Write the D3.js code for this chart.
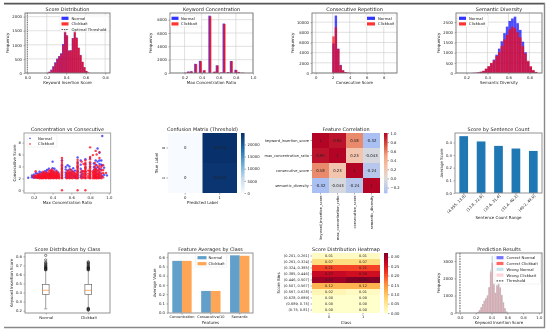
<!DOCTYPE html>
<html><head><meta charset="utf-8">
<script src="https://cdn.jsdelivr.net/npm/d3@7"></script>
<style>
html,body{margin:0;padding:0;background:#fff;overflow:hidden}
svg{display:block;filter:blur(0.4px)}
text{font-family:"DejaVu Sans",sans-serif;fill:#222}
</style></head><body>
<svg id="c" width="550" height="332"></svg>
<script>
// ---------- data ----------
const BLUE="#0000ff",RED="#ff0000";
const scoreStep=0.02;
const scoreBinsX=[.20,.22,.24,.26,.28,.30,.32,.34,.36,.38,.40,.42,.44,.46,.48,.50,.52,.54,.56,.58,.60,.62];
const scoreNormal=[8,45,120,240,380,510,600,700,1030,1520,1340,800,810,1240,1490,1260,900,640,400,210,75,18];
const scoreClick=[6,40,105,225,360,495,590,680,1000,1500,1330,790,800,1230,1470,1240,890,630,390,200,70,15];
const concStep=0.028;
const concX=[.20,.235,.27,.32,.375,.42,.486,.54,.572,.62,.652,.70,.737,.79,.825,.87];
const concNormal=[40,210,260,1380,1820,380,8600,170,1150,60,7420,130,1800,480,160,40];
const concClick=[30,190,240,1340,1770,430,8500,210,1120,80,7360,100,1780,430,130,30];
const repStep=0.28;
const repX=[1.95,2.23,2.51,2.79,3.07,3.35,3.63,3.91,4.19];
const repNormal=[5800,11300,4800,1600,520,170,60,25,10];
const repClick=[7200,9000,4700,1500,560,180,70,30,12];
const divStep=0.025;
const divX=[.25,.275,.30,.325,.35,.375,.40,.425,.45,.475,.50,.525,.55,.575,.60,.625,.65,.675,.70,.725,.75,.775,.80,.825,.85];
const divNormal=[5,10,30,60,100,200,320,480,660,900,1200,1560,1960,2280,2560,2680,2770,2450,2120,1540,1020,560,300,120,45];
const divClick=[5,12,30,60,110,220,340,490,620,830,1020,1330,1650,1880,2140,2280,2200,2000,1750,1320,960,600,340,150,55];

const scatterXTicks=[.2,.4,.6,.8,1.0], scatterYTicks=[0,2,4,6,8];
const scatterNormal=[[.14,[2.1]],[.18,[2.2,2.5]],[.2,[2.1,2.3,2.6]],[.22,[2.2,2.4,2.9]],[.24,[2.1,2.5,2.8]],[.26,[2.2,2.4,2.7,3.1]],[.28,[2.1,2.3,2.6,3.0]],[.3,[2.2,2.5,2.9]],[.32,[2.1,2.4,2.8,3.2]],[.34,[2.2,2.6,3.0,3.4]],[.36,[2.1,2.4,2.7,3.6]],[.38,[2.2,2.5,2.9,3.3]],[.4,[2.1,2.6,3.1,3.7,4.8]],[.42,[2.2,2.5,3.0,3.6]],[.44,[2.1,2.4,2.8,3.3]],[.46,[2.2,2.6,3.0]],[.5,[2.1,2.5,3.0,3.6,4.2,5.0]],[.54,[2.2,2.6,3.0,3.5,3.9]],[.56,[2.1,2.4,2.8,3.3,4.2]],[.58,[2.2,2.6,3.0,3.5,4.0]],[.6,[2.1,2.5,2.9,3.4]],[.62,[2.2,2.6,3.1,3.7]],[.64,[2.1,2.4,2.8,3.3]],[.667,[2.1,2.6,3.2,3.9,4.6,5.5]],[.7,[2.2,2.5,3.0,3.6,4.3,5.0]],[.72,[2.2,2.7,3.2]],[.75,[2.1,2.6,3.1,3.8,4.4,5.2]],[.8,[2.1,2.6,3.2,3.9,4.5,5.4]],[.84,[2.2,2.5,3.0,3.4,3.9,4.5]],[.86,[2.1,2.6,3.1,3.7,4.3,5.0]],[.88,[2.2,2.7,3.3,3.9,4.8,7.0]],[.9,[2.1,2.5,3.0,3.6,4.4,5.0,6.3]],[.92,[2.2,2.8,3.5,4.3,5.0]],[.93,[9.1,4.2,2.4]],[.95,[2.6,3.8]],[.98,[2.5]]];
const scatterClick=[[.2,[2.2,2.4]],[.22,[2.1,2.3,2.5,3.2]],[.24,[2.1,2.2,2.4,2.6]],[.26,[2.0,2.2,2.3,2.5,2.7]],[.28,[2.0,2.1,2.3,2.5,2.8]],[.3,[2.0,2.2,2.4,2.6,2.8,3.1]],[.31,[2.1,2.3,2.5,2.7,2.9]],[.33,[2.0,2.2,2.4,2.6,2.8,3.0]],[.34,[2.1,2.3,2.5,2.7]],[.36,[2.0,2.2,2.4,2.6,2.8,3.0,3.3]],[.38,[2.0,2.2,2.3,2.5,2.7,2.9,3.2]],[.39,[2.1,2.3,2.5,2.7,3.0,3.3,3.5]],[.41,[2.0,2.2,2.4,2.6,2.8,3.0,3.3]],[.42,[2.1,2.3,2.5,2.7,3.0]],[.44,[2.0,2.2,2.4,2.6,2.8,3.1]],[.45,[2.1,2.3,2.5,2.8,3.0]],[.47,[2.0,2.2,2.4,2.7]],[.5,[0,2.0,2.2,2.4,2.6,2.8,3.0,3.2,3.4,3.6,3.8,4.0,4.3,4.6,5.0,5.4]],[.55,[2.0,2.3,2.6,2.9]],[.56,[2.1,2.4,2.7,3.0,3.3]],[.58,[2.0,2.2,2.5,2.8,3.1]],[.59,[2.1,2.4,2.7,3.0,3.5]],[.61,[2.0,2.3,2.6,2.9,3.2]],[.63,[2.1,2.4,2.7,3.0]],[.65,[2.0,2.3,2.5,2.8]],[.667,[0,2.0,2.2,2.4,2.6,2.8,3.0,3.2,3.4,3.6,3.8,4.0,4.2,4.5,4.8,5.1]],[.71,[2.0,2.3,2.6,3.0,3.3,4.8]],[.73,[2.1,2.4,2.8,3.2,4.4]],[.75,[0,2.0,2.2,2.4,2.6,2.8,3.0,3.2,3.4,3.6,3.8,4.0,4.3,4.6,5.0]],[.78,[2.1,2.4,2.8,3.3]],[.8,[2.0,2.2,2.4,2.6,2.8,3.0,3.2,3.4,3.7,4.0,4.3,4.7,5.2,5.6,7.2]],[.83,[2.0,2.3,2.6,2.9,3.2,5.9]],[.85,[2.0,2.2,2.4,2.6,2.8,3.0,3.3,3.6,4.0,4.6]],[.86,[2.1,2.3,2.5,2.8,3.1,3.5,6.6]],[.87,[2.0,2.2,2.4,2.7,3.0,3.4,4.2,6.0]],[.89,[2.0,2.3,2.6,2.9,3.3,3.8]],[.9,[2.1,2.4,2.7,3.1,3.5,4.1,5.4,6.4]],[.92,[2.0,2.4,2.8,3.3,3.9]],[.94,[2.2,2.9,3.4,4.2]],[.97,[2.9]]];

const cmClasses=["0","1"];
const cmValues=[[0,24710],[0,24155]];
const cmTicks=[0,5000,10000,15000,20000];

const corrLabels=["keyword_insertion_score","max_concentration_ratio","consecutive_score","semantic_diversity"];
const corrValues=[[1,.95,.58,-.32],[.95,1,.23,-.043],[.58,.23,1,-.24],[-.32,-.043,-.24,1]];
const corrText=[["1","0.95","0.58","-0.32"],["0.95","1","0.23","-0.043"],["0.58","0.23","1","-0.24"],["-0.32","-0.043","-0.24","1"]];
const corrTicks=[-.2,0,.2,.4,.6,.8,1];
const coolwarmDomain=[-1,-.5,0,.25,.5,.75,1];
const coolwarmRange=["#3b4cc0","#8db0fe","#dddcdc","#f6c3aa","#f4a582","#d6503d","#b40426"];

const sentCats=["(4.955, 13.8]","(13.8, 22.6]","(22.6, 31.4]","(31.4, 40.2]","(40.2, 49.0]"];
const sentVals=[.45,.408,.373,.352,.333];

const boxCats=["Normal","Clickbait"];
const boxStats=[{q1:.38,med:.425,q3:.49,lo:.22,hi:.645},{q1:.38,med:.425,q3:.49,lo:.232,hi:.645}];
const boxFliers=[[.65,.655,.66,.665,.67,.675,.68,.69,.695,.705,.715,.725,.735,.76,.81],[.205,.21,.215,.22,.225,.65,.655,.66,.665,.67,.675,.68,.685,.695,.705,.715,.725,.73,.74]];

const featCats=["Concentration","Consecutive/10","Semantic"];
const featNormal=[.56,.235,.62];
const featClick=[.56,.235,.615];

const heatRows=["(0.201, 0.261]","(0.261, 0.324]","(0.324, 0.385]","(0.385, 0.446]","(0.446, 0.507]","(0.507, 0.567]","(0.567, 0.628]","(0.628, 0.689]","(0.689, 0.75]","(0.75, 0.81]"];
const heatCols=["0","1"];
const heatNormal=[.01,.07,.21,.27,.30,.12,.02,.00,.00,.00];
const heatClick=[.01,.07,.21,.26,.32,.12,.01,.00,.00,.00];
const heatTicks=[0,.05,.10,.15,.20,.25,.30];

const predStep=0.02;
const predX=[.22,.24,.26,.28,.30,.32,.34,.36,.38,.40,.42,.44,.46,.48,.50,.52,.54,.56,.58];
const predWrongNormal=[60,170,330,520,720,850,1020,1500,2500,3300,1700,1180,1620,1790,1500,1050,620,280,80];
const predWrongClick=[55,160,320,500,700,840,1000,1480,2350,2900,1650,1150,1580,1750,1460,1020,600,260,70];

// ---------- helpers ----------
const svg=d3.select("#c");
const TICK=3.8,LAB=4,TITLE=4.9;
function panel(b,xd,yd){
  const g=svg.append("g");
  const x=d3.scaleLinear().domain(xd).range([b.x0,b.x1]);
  const y=d3.scaleLinear().domain(yd).range([b.y1,b.y0]);
  return {g,x,y,b};
}
function gridlines(p,xt,yt){
  p.g.selectAll(null).data(xt).join("line").attr("x1",d=>p.x(d)).attr("x2",d=>p.x(d)).attr("y1",p.b.y0).attr("y2",p.b.y1).attr("stroke","#ccc").attr("stroke-width",.6);
  p.g.selectAll(null).data(yt).join("line").attr("y1",d=>p.y(d)).attr("y2",d=>p.y(d)).attr("x1",p.b.x0).attr("x2",p.b.x1).attr("stroke","#ccc").attr("stroke-width",.6);
}
function styleAxis(a){a.select(".domain").remove();a.selectAll("line").attr("stroke","#555").attr("stroke-width",.5);a.selectAll("text").attr("font-size",TICK).attr("fill","#222");}
function axes(p,xt,yt,xf,yf){
  if(xt){const a=p.g.append("g").attr("transform",`translate(0,${p.b.y1})`).call(d3.axisBottom(p.x).tickValues(xt).tickFormat(xf||d3.format(".1f")).tickSize(1.5).tickPadding(1.5));styleAxis(a);}
  if(yt){const a=p.g.append("g").attr("transform",`translate(${p.b.x0},0)`).call(d3.axisLeft(p.y).tickValues(yt).tickFormat(yf||d3.format("d")).tickSize(1.5).tickPadding(1.5));styleAxis(a);}
}
function spine(p,c){p.g.append("rect").attr("x",p.b.x0).attr("y",p.b.y0).attr("width",p.b.x1-p.b.x0).attr("height",p.b.y1-p.b.y0).attr("fill","none").attr("stroke",c||"#777").attr("stroke-width",.9);}
function labels(b,t,xl,yl,xlY,ylX){
  svg.append("text").attr("x",(b.x0+b.x1)/2).attr("y",b.y0-2.2).attr("text-anchor","middle").attr("font-size",TITLE).text(t);
  svg.append("text").attr("x",(b.x0+b.x1)/2).attr("y",xlY).attr("text-anchor","middle").attr("font-size",LAB).text(xl);
  svg.append("text").attr("transform",`translate(${ylX},${(b.y0+b.y1)/2}) rotate(-90)`).attr("text-anchor","middle").attr("font-size",LAB).text(yl);
}
function bars(p,xs,vals,step,color,alpha,off){
  p.g.selectAll(null).data(vals).join("rect")
   .attr("x",(d,i)=>p.x(xs[i]+(off||0))).attr("width",(d,i)=>p.x(xs[i]+step)-p.x(xs[i]))
   .attr("y",d=>p.y(d)).attr("height",d=>p.y.range()[0]-p.y(d)).attr("fill",color).attr("fill-opacity",alpha);
}
function legend(items,o){
  const g=svg.append("g");
  if(o.box) g.append("rect").attr("x",o.box[0]).attr("y",o.box[1]).attr("width",o.box[2]).attr("height",o.box[3]).attr("rx",.8).attr("fill","#fff").attr("fill-opacity",.82).attr("stroke","#ddd").attr("stroke-width",.4);
  items.forEach((it,i)=>{
    const y=o.y+i*o.dy;
    if(it.type==="line") g.append("line").attr("x1",o.x).attr("x2",o.x+o.w).attr("y1",y).attr("y2",y).attr("stroke",it.color).attr("stroke-width",.9).attr("stroke-dasharray",it.dash);
    else if(it.type==="dot") g.append("circle").attr("cx",o.x+o.w/2).attr("cy",y).attr("r",.9).attr("fill",it.color).attr("fill-opacity",.7);
    else g.append("rect").attr("x",o.x).attr("y",y-1.6).attr("width",o.w).attr("height",3.2).attr("fill",it.color).attr("fill-opacity",it.a==null?.7:it.a);
    g.append("text").attr("x",o.tx).attr("y",y+1.4).attr("font-size",TICK).text(it.t);
  });
}
function colorbar(b,dom,color,ticks,fmt){
  const y=d3.scaleLinear().domain(dom).range([b.y1,b.y0]);
  const n=60,g=svg.append("g");
  d3.range(n).forEach(i=>{const v0=dom[0]+(dom[1]-dom[0])*i/n,v1=dom[0]+(dom[1]-dom[0])*(i+1)/n;
    g.append("rect").attr("x",b.x0).attr("width",b.x1-b.x0).attr("y",y(v1)).attr("height",y(v0)-y(v1)+.3).attr("fill",color((v0+v1)/2));});
  const a=g.append("g").attr("transform",`translate(${b.x1},0)`).call(d3.axisRight(y).tickValues(ticks).tickFormat(fmt).tickSize(1.5).tickPadding(1.5));
  styleAxis(a);
}
function heat(g,x,y,rows,cols,val,color,txt,fs,dark){
  rows.forEach(r=>cols.forEach(c=>{
    const v=val(r,c);
    g.append("rect").attr("x",x(c)).attr("y",y(r)).attr("width",x.bandwidth()).attr("height",y.bandwidth()).attr("fill",color(v));
    g.append("text").attr("x",x(c)+x.bandwidth()/2).attr("y",y(r)+y.bandwidth()/2+fs*.36).attr("text-anchor","middle").attr("font-size",fs).attr("fill",dark(v)?"#fff":"#333").text(txt(r,c));
  }));
}
function catAxes(g,x,y,b,fs){
  const ax=g.append("g").attr("transform",`translate(0,${b.y1})`).call(d3.axisBottom(x).tickSize(1.5).tickPadding(1.5));styleAxis(ax);
  const ay=g.append("g").attr("transform",`translate(${b.x0},0)`).call(d3.axisLeft(y).tickSize(1.5).tickPadding(1.5));styleAxis(ay);
  if(fs){ax.selectAll("text").attr("font-size",fs);ay.selectAll("text").attr("font-size",fs);}
  return [ax,ay];
}

// ---------- frame ----------
svg.append("line").attr("x1",4).attr("x2",545).attr("y1",3.6).attr("y2",3.6).attr("stroke","#555").attr("stroke-width",1.8);
svg.append("line").attr("x1",544.5).attr("x2",544.5).attr("y1",3).attr("y2",328).attr("stroke","#888").attr("stroke-width",1.4);
svg.append("line").attr("x1",4).attr("x2",545).attr("y1",327.5).attr("y2",327.5).attr("stroke","#888").attr("stroke-width",1.3);

// ---------- row 1 ----------
{const b={x0:25,x1:110,y0:13,y1:73};
 const p=panel(b,[-.024,.85],[0,2130]);
 gridlines(p,[0,.2,.4,.6,.8],[0,500,1000,1500,2000]);
 bars(p,scoreBinsX,scoreNormal,scoreStep,BLUE,.7,-.004);
 bars(p,scoreBinsX,scoreClick,scoreStep,RED,.7);
 p.g.append("line").attr("x1",p.x(0)).attr("x2",p.x(0)).attr("y1",b.y0).attr("y2",b.y1).attr("stroke","#444").attr("stroke-width",.8).attr("stroke-dasharray","1,.8");
 axes(p,[0,.2,.4,.6,.8],[0,500,1000,1500,2000]);spine(p);
 labels(b,"Score Distribution","Keyword Insertion Score","Frequency",84,8.5);
 legend([{t:"Normal",color:BLUE,a:.8},{t:"Clickbait",color:RED,a:.8},{t:"Optimal Threshold",type:"line",color:"#444",dash:"1.5,.8"}],{x:61.5,w:7,tx:71.5,y:18.3,dy:5.6,box:[60,15,49,17]});
}
{const b={x0:170,x1:253,y0:13,y1:73};
 const p=panel(b,[.03,1.0],[0,9000]);
 gridlines(p,[.2,.4,.6,.8,1],[0,2000,4000,6000,8000]);
 bars(p,concX,concNormal,concStep,BLUE,.7,-.008);
 bars(p,concX,concClick,concStep,RED,.7);
 axes(p,[.2,.4,.6,.8,1],[0,2000,4000,6000,8000]);spine(p);
 labels(b,"Keyword Concentration","Max Concentration Ratio","Frequency",84,152);
 legend([{t:"Normal",color:BLUE,a:.8},{t:"Clickbait",color:RED,a:.8}],{x:171.5,w:7,tx:181,y:18.3,dy:5.6,box:[170.5,15,31,12]});
}
{const b={x0:312,x1:397,y0:13,y1:73};
 const p=panel(b,[-.44,9.56],[0,11800]);
 gridlines(p,[0,2,4,6,8],[0,2000,4000,6000,8000,10000]);
 bars(p,repX,repNormal,repStep,BLUE,.7);
 bars(p,repX,repClick,repStep,RED,.7);
 axes(p,[0,2,4,6,8],[0,2000,4000,6000,8000,10000],d3.format("d"));spine(p);
 labels(b,"Consecutive Repetition","Consecutive Score","Frequency",84,294);
 legend([{t:"Normal",color:BLUE,a:.8},{t:"Clickbait",color:RED,a:.8}],{x:367,w:8,tx:378,y:18.3,dy:5.6,box:[365,15,31,12]});
}
{const b={x0:456,x1:542,y0:13,y1:73};
 const p=panel(b,[.1,.92],[0,2950]);
 gridlines(p,[.2,.4,.6,.8],[0,500,1000,1500,2000,2500]);
 bars(p,divX,divNormal,divStep,BLUE,.7);
 bars(p,divX,divClick,divStep,RED,.7);
 axes(p,[.2,.4,.6,.8],[0,500,1000,1500,2000,2500]);spine(p);
 labels(b,"Semantic Diversity","Semantic Diversity","Frequency",84,440);
 legend([{t:"Normal",color:BLUE,a:.8},{t:"Clickbait",color:RED,a:.8}],{x:459,w:7,tx:469,y:18.3,dy:5.6,box:[457.5,15,31,12]});
}

// ---------- row 2 ----------
{const b={x0:24,x1:110.7,y0:133,y1:193};
 const p=panel(b,[.095,1.02],[-.45,9.6]);
 const flat=a=>a.flatMap(([x,ys])=>ys.map(y=>({x,y})));
 p.g.selectAll(null).data(flat(scatterNormal)).join("circle").attr("cx",d=>p.x(d.x)).attr("cy",d=>p.y(d.y)).attr("r",1.2).attr("fill","#2020ff").attr("fill-opacity",.75);
 p.g.selectAll(null).data(flat(scatterClick)).join("circle").attr("cx",d=>p.x(d.x)).attr("cy",d=>p.y(d.y)).attr("r",1.2).attr("fill","#ff1020").attr("fill-opacity",.8);
 axes(p,scatterXTicks,scatterYTicks,d3.format(".1f"));spine(p,"#999");
 labels(b,"Concentration vs Consecutive","Max Concentration Ratio","Consecutive Score",204,15.5);
 legend([{t:"Normal",type:"dot",color:"#2020ff"},{t:"Clickbait",type:"dot",color:"#ff1020"}],{x:28.5,w:3,tx:38,y:138.3,dy:5.7,box:[27,135,30,12]});
}
{const b={x0:168,x1:237,y0:133,y1:193};
 const g=svg.append("g");
 const x=d3.scaleBand().domain(cmClasses).range([b.x0,b.x1]),y=d3.scaleBand().domain(cmClasses).range([b.y0,b.y1]);
 const color=d3.scaleLinear().domain([0,6000,12000,18000,24710]).range(["#f7fbff","#c6dbef","#6baed6","#2171b5","#08306b"]);
 heat(g,x,y,cmClasses,cmClasses,(r,c)=>cmValues[+r][+c],color,(r,c)=>cmValues[+r][+c],3.9,v=>v>12000);
 const [,ay]=catAxes(g,x,y,b);
 ay.selectAll("text").attr("transform",function(d){return `rotate(-90 ${this.getAttribute("x")} 0)`;}).attr("text-anchor","middle").attr("dy",".1em");
 labels(b,"Confusion Matrix (Threshold)","Predicted Label","True Label",204,157.5);
 colorbar({x0:241,x1:244.5,y0:133,y1:193},[0,24710],color,cmTicks,d3.format("d"));
}
{const b={x0:312,x1:380,y0:133,y1:193};
 const g=svg.append("g");
 const x=d3.scaleBand().domain(corrLabels).range([b.x0,b.x1]),y=d3.scaleBand().domain(corrLabels).range([b.y0,b.y1]);
 const color=d3.scaleLinear().domain(coolwarmDomain).range(coolwarmRange).clamp(true);
 heat(g,x,y,corrLabels,corrLabels,(r,c)=>corrValues[corrLabels.indexOf(r)][corrLabels.indexOf(c)],color,(r,c)=>corrText[corrLabels.indexOf(r)][corrLabels.indexOf(c)],3.9,v=>v>.7);
 const [ax]=catAxes(g,x,y,b,3.6);
 ax.selectAll("text").attr("transform","rotate(-90)").attr("text-anchor","end").attr("x",-2.5).attr("y",0).attr("dy",".35em");
 svg.append("text").attr("x",(b.x0+b.x1)/2).attr("y",b.y0-2.2).attr("text-anchor","middle").attr("font-size",TITLE).text("Feature Correlation");
 colorbar({x0:384,x1:387.5,y0:133,y1:193},[-.32,1],color,corrTicks,d3.format(".1f"));
}
{const b={x0:455,x1:542,y0:133,y1:193};
 const g=svg.append("g");
 const x=d3.scaleBand().domain(sentCats).range([b.x0,b.x1]).paddingInner(.5).paddingOuter(.25);
 const y=d3.scaleLinear().domain([0,.475]).range([b.y1,b.y0]);
 g.selectAll(null).data(sentVals).join("rect").attr("x",(d,i)=>x(sentCats[i])).attr("width",x.bandwidth()).attr("y",d=>y(d)).attr("height",d=>y(0)-y(d)).attr("fill","#1f77b4");
 const ax=g.append("g").attr("transform",`translate(0,${b.y1})`).call(d3.axisBottom(x).tickSize(1.5).tickPadding(1.5));styleAxis(ax);
 ax.selectAll("text").attr("transform","rotate(-45)").attr("text-anchor","end").attr("x",-.5).attr("y",2.5).attr("dy",".35em");
 const ay=g.append("g").attr("transform",`translate(${b.x0},0)`).call(d3.axisLeft(y).tickValues([0,.1,.2,.3,.4]).tickFormat(d3.format(".1f")).tickSize(1.5).tickPadding(1.5));styleAxis(ay);
 g.append("rect").attr("x",b.x0).attr("y",b.y0).attr("width",b.x1-b.x0).attr("height",b.y1-b.y0).attr("fill","none").attr("stroke","#888").attr("stroke-width",.9);
 labels(b,"Score by Sentence Count","Sentence Count Range","Average Score",219,443);
}

// ---------- row 3 ----------
{const b={x0:25,x1:110,y0:253,y1:313};
 const g=svg.append("g");
 const x=d3.scalePoint().domain(boxCats).range([45.7,88.3]);
 const y=d3.scaleLinear().domain([.2,.8]).range([310.7,256.3]);
 boxStats.forEach((s,i)=>{
  const cx=x(boxCats[i]),w=6.8;
  g.append("line").attr("x1",cx).attr("x2",cx).attr("y1",y(s.lo)).attr("y2",y(s.hi)).attr("stroke","#777").attr("stroke-width",.7);
  [s.lo,s.hi].forEach(v=>g.append("line").attr("x1",cx-w/4).attr("x2",cx+w/4).attr("y1",y(v)).attr("y2",y(v)).attr("stroke","#777").attr("stroke-width",.6));
  g.append("rect").attr("x",cx-w/2).attr("width",w).attr("y",y(s.q3)).attr("height",y(s.q1)-y(s.q3)).attr("fill","#fff").attr("stroke","#555").attr("stroke-width",.6);
  g.append("line").attr("x1",cx-w/2).attr("x2",cx+w/2).attr("y1",y(s.med)).attr("y2",y(s.med)).attr("stroke","#ff7f0e").attr("stroke-width",.6);
  g.selectAll(null).data(boxFliers[i]).join("circle").attr("cx",cx).attr("cy",d=>y(d)).attr("r",1.15).attr("fill","none").attr("stroke","#111").attr("stroke-width",.5);
 });
 const ax=g.append("g").attr("transform",`translate(0,${b.y1})`).call(d3.axisBottom(x).tickSize(1.5).tickPadding(1.5));styleAxis(ax);
 const ay=g.append("g").attr("transform",`translate(${b.x0},0)`).call(d3.axisLeft(y).tickValues([.2,.3,.4,.5,.6,.7,.8]).tickFormat(d3.format(".1f")).tickSize(1.5).tickPadding(1.5));styleAxis(ay);
 g.append("rect").attr("x",b.x0).attr("y",b.y0).attr("width",b.x1-b.x0).attr("height",b.y1-b.y0).attr("fill","none").attr("stroke","#888").attr("stroke-width",.9);
 svg.append("text").attr("x",(b.x0+b.x1)/2).attr("y",b.y0-2.2).attr("text-anchor","middle").attr("font-size",TITLE).text("Score Distribution by Class");
 svg.append("text").attr("transform",`translate(12.5,283) rotate(-90)`).attr("text-anchor","middle").attr("font-size",LAB).text("Keyword Insertion Score");
}
{const b={x0:168,x1:253,y0:253,y1:313};
 const g=svg.append("g");
 const x=d3.scaleBand().domain(featCats).range([172.3,249.4]).paddingInner(.33).paddingOuter(0);
 const y=d3.scaleLinear().domain([0,.645]).range([312.7,b.y0]);
 featCats.forEach((c,i)=>{
  const w=x.bandwidth()/2;
  g.append("rect").attr("x",x(c)).attr("width",w).attr("y",y(featNormal[i])).attr("height",y(0)-y(featNormal[i])).attr("fill","#1f77b4").attr("fill-opacity",.7);
  g.append("rect").attr("x",x(c)+w).attr("width",w).attr("y",y(featClick[i])).attr("height",y(0)-y(featClick[i])).attr("fill","#ff7f0e").attr("fill-opacity",.7);
 });
 const ax=g.append("g").attr("transform",`translate(0,${b.y1})`).call(d3.axisBottom(x).tickSize(1.5).tickPadding(1.5));styleAxis(ax);
 ax.selectAll("text").attr("font-size",3.5);
 const ay=g.append("g").attr("transform",`translate(${b.x0},0)`).call(d3.axisLeft(y).tickValues([0,.1,.2,.3,.4,.5,.6]).tickFormat(d3.format(".1f")).tickSize(1.5).tickPadding(1.5));styleAxis(ay);
 g.append("rect").attr("x",b.x0).attr("y",b.y0).attr("width",b.x1-b.x0).attr("height",b.y1-b.y0).attr("fill","none").attr("stroke","#888").attr("stroke-width",.9);
 labels(b,"Feature Averages by Class","Features","Average Value",324,156);
 legend([{t:"Normal",color:"#1f77b4",a:.7},{t:"Clickbait",color:"#ff7f0e",a:.7}],{x:197.5,w:9,tx:208.5,y:257.7,dy:6,box:[195.7,254,31,13]});
}
{const b={x0:312,x1:380,y0:253,y1:313};
 const g=svg.append("g");
 const x=d3.scaleBand().domain(heatCols).range([b.x0,b.x1]),y=d3.scaleBand().domain(heatRows).range([b.y0,b.y1]);
 const color=d3.scaleSequential(d3.interpolateYlOrRd).domain([0,.32]);
 const val=(r,c)=>(c==="0"?heatNormal:heatClick)[heatRows.indexOf(r)];
 heat(g,x,y,heatRows,heatCols,val,color,(r,c)=>d3.format(".2f")(val(r,c)),3.5,v=>v>.18);
 catAxes(g,x,y,b,3.5);
 labels(b,"Score Distribution Heatmap","Class","Score Bins",324,279.5);
 colorbar({x0:384,x1:388,y0:253,y1:313},[0,.32],color,heatTicks,d3.format(".2f"));
}
{const b={x0:456,x1:542,y0:253,y1:313};
 const p=panel(b,[-.05,1.04],[-10,3470]);
 bars(p,predX,predWrongNormal,predStep,"#add8e6",.75);
 bars(p,predX,predWrongClick,predStep,"#d8a4aa",.85);
 p.g.append("line").attr("x1",p.x(0)).attr("x2",p.x(0)).attr("y1",b.y0).attr("y2",b.y1).attr("stroke","#111").attr("stroke-width",.7).attr("stroke-dasharray","1.6,1");
 axes(p,[0,.2,.4,.6,.8,1],[0,1000,2000,3000]);spine(p);
 labels(b,"Prediction Results","Keyword Insertion Score","Frequency",324,440);
 legend([{t:"Correct Normal",color:"#0000ff",a:.55},{t:"Correct Clickbait",color:"#ff0000",a:.6},{t:"Wrong Normal",color:"#add8e6",a:.7},{t:"Wrong Clickbait",color:"#ffc0cb",a:.7},{t:"Threshold",type:"line",color:"#111",dash:"1.6,1"}],{x:496.5,w:7,tx:506.5,y:257.7,dy:5.8,box:[495,254,45.5,30]});
}
</script>
</body></html>
